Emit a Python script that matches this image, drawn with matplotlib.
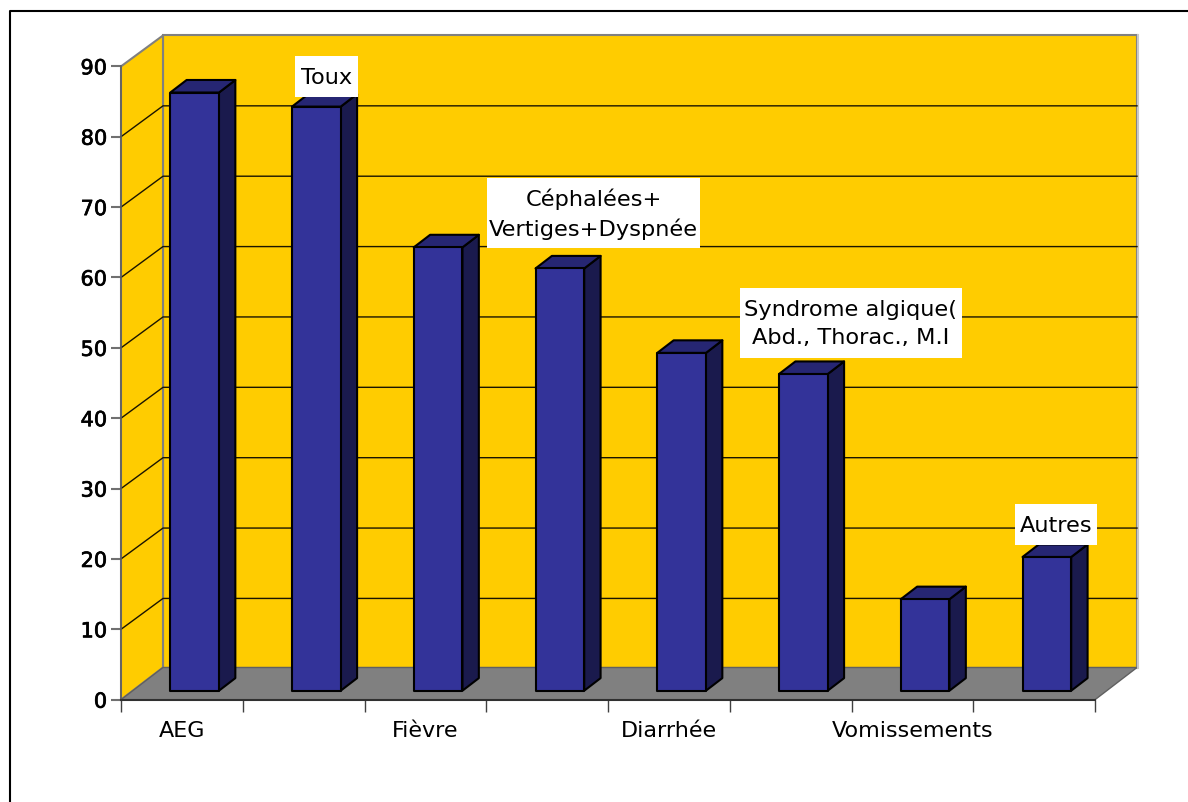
import matplotlib
matplotlib.use("Agg")
import matplotlib.pyplot as plt
import matplotlib.patheffects as pe
from matplotlib.lines import Line2D
from matplotlib.patches import Polygon, Rectangle

# Values per symptom
symptoms = ["AEG", "Toux", "Fièvre", "Céphalées+\nVertiges+Dyspnée", "Diarrhée",
            "Syndrome algique(\nAbd., Thorac., M.I", "Vomissements", "Autres"]
counts = [85, 83, 63, 60, 48, 45, 13, 19]
axis_labelled = ["AEG", "Fièvre", "Diarrhée", "Vomissements"]
yticks = [0, 10, 20, 30, 40, 50, 60, 70, 80, 90]

# pixel scale of the plot
W, H = 1188, 803
px_x = 121.75
px_y = 7.037
x0, y0 = 121, 102.3

# depth of the box in data units; the floor edge sits a bit lower than the grid
dx = 42 / px_x
dy = 30.9 / px_y
floor_dy = 32.2 / px_y

# bar placement inside a category
bar_w = 0.40
bar_shift = 0.008
bar_d0 = 0.28
bar_d1 = 0.67

yellow = "#ffcc00"
floor_col = "#808080"
wall_edge = "#808080"
front_col = "#333399"
top_col = "#262673"
side_col = "#1a1a4d"

# white label boxes: category -> offset from the bar top and box size, in pixels
box_layout = {1: (11, 30, 63, 41), 3: (34.6, 55, 213, 70),
              5: (48.6, 50.6, 222, 70), 7: (10, 32, 82, 41)}

halo = [pe.withStroke(linewidth=0.5, foreground="black")]


def main():
    fig = plt.figure(figsize=(W / 100, H / 100), dpi=100)
    ax = fig.add_axes([0, 0, 1, 1])
    ax.patch.set_alpha(0)
    ax.set_xlim(-x0 / px_x, (W - x0) / px_x)
    ax.set_ylim(-y0 / px_y, (H - y0) / px_y)

    n = len(counts)
    top = yticks[-1]

    # walls and floor
    ax.add_patch(Polygon([(dx, floor_dy), (n + dx, floor_dy), (n + dx, top + dy), (dx, top + dy)],
                         fc=yellow, ec=wall_edge, lw=1.5, zorder=1))
    ax.add_patch(Polygon([(0, 0), (dx, floor_dy), (dx, top + dy), (0, top)],
                         fc=yellow, ec=wall_edge, lw=1.5, zorder=1))
    ax.add_patch(Polygon([(0, 0), (n, 0), (n + dx, floor_dy), (dx, floor_dy)],
                         fc=floor_col, ec="#606060", lw=1, zorder=1))
    ax.plot([n + dx + 0.012] * 2, [floor_dy, top + dy], color="#c8c8c8", lw=1.5, zorder=1)

    # grid on back and side wall
    for v in yticks[1:-1]:
        ax.plot([0, dx, n + dx], [v, v + dy, v + dy], color="#1a1400", lw=1, zorder=2)

    # bars
    for i, v in enumerate(counts):
        left = i + 0.5 - bar_w / 2 + bar_shift
        right = left + bar_w
        fx = lambda x, d: x + d * dx
        fy = lambda y, d: y + d * floor_dy
        ax.add_patch(Polygon([(fx(right, bar_d0), fy(0, bar_d0)), (fx(right, bar_d1), fy(0, bar_d1)),
                              (fx(right, bar_d1), fy(v, bar_d1)), (fx(right, bar_d0), fy(v, bar_d0))],
                             fc=side_col, ec="black", lw=1.5, joinstyle="round", zorder=3))
        ax.add_patch(Polygon([(fx(left, bar_d0), fy(v, bar_d0)), (fx(right, bar_d0), fy(v, bar_d0)),
                              (fx(right, bar_d1), fy(v, bar_d1)), (fx(left, bar_d1), fy(v, bar_d1))],
                             fc=top_col, ec="black", lw=1.5, joinstyle="round", zorder=3))
        ax.add_patch(Polygon([(fx(left, bar_d0), fy(0, bar_d0)), (fx(right, bar_d0), fy(0, bar_d0)),
                              (fx(right, bar_d0), fy(v, bar_d0)), (fx(left, bar_d0), fy(v, bar_d0))],
                             fc=front_col, ec="black", lw=1.5, joinstyle="round", zorder=4))

    # white boxes for the categories the axis skips
    for i, (ox, oy, bw, bh) in box_layout.items():
        cx = i + 0.5 + bar_d0 * dx + ox / px_x
        cy = counts[i] + bar_d0 * floor_dy + oy / px_y
        ax.add_patch(Rectangle((cx - bw / 2 / px_x, cy - bh / 2 / px_y), bw / px_x, bh / px_y,
                               fc="white", ec="none", zorder=5))
        ax.text(cx, cy, symptoms[i], ha="center", va="center", fontsize=16.2,
                color="black", linespacing=1.5, zorder=6)

    # axes
    for s in ["top", "right"]:
        ax.spines[s].set_visible(False)
    ax.spines["left"].set_position(("data", 0))
    ax.spines["left"].set_bounds(0, top)
    ax.spines["left"].set_color("#606060")
    ax.spines["left"].set_linewidth(1.2)
    ax.spines["left"].set_zorder(2.5)
    ax.spines["bottom"].set_position(("data", 0))
    ax.spines["bottom"].set_bounds(0, n)
    ax.spines["bottom"].set_color("#303030")
    ax.spines["bottom"].set_linewidth(1.5)
    ax.spines["bottom"].set_zorder(2.5)

    ax.set_yticks(yticks)
    ax.tick_params(axis="y", direction="out", length=7, width=1.5, color="#707070",
                   labelsize=15, pad=3)
    for lab in ax.get_yticklabels():
        lab.set_path_effects(halo)
    ax.set_xticks(range(n + 1))
    ax.set_xticklabels([])
    ax.tick_params(axis="x", which="major", direction="out", length=8.5, width=1, color="#404040")
    ax.set_xticks([i + 0.5 for i in range(n)], minor=True)
    ax.set_xticklabels([s if s in axis_labelled else "" for s in symptoms], minor=True)
    ax.tick_params(axis="x", which="minor", length=0, labelsize=16, pad=14.5)

    # outer frame, open to the right and bottom
    fig.add_artist(Line2D([9.5 / W, 9.5 / W, 1], [0, 1 - 12 / H, 1 - 12 / H],
                          color="black", lw=1.5))

    fig.savefig("out.png", dpi=100)


if __name__ == "__main__":
    main()
